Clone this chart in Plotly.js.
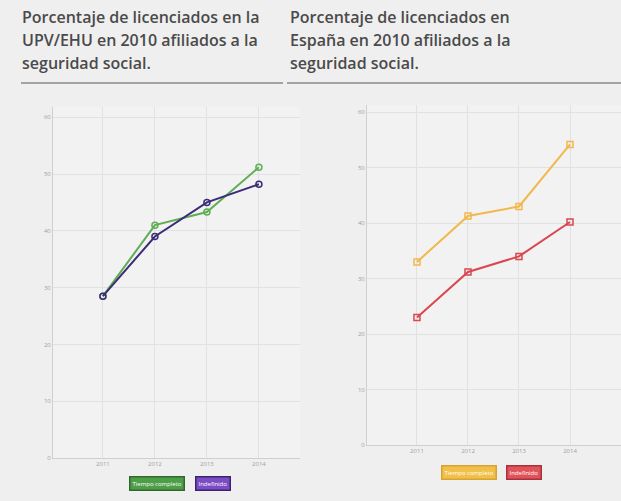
<!DOCTYPE html>
<html>
<head>
<meta charset="utf-8">
<script src="https://cdn.plot.ly/plotly-3.0.1.min.js"></script>
<style>html,body{margin:0;padding:0;background:#efefef;}#chart{width:621px;height:501px;}</style>
</head>
<body>
<div id="chart"></div>
<script>
// ---- data ----
const years = [2011, 2012, 2013, 2014];
const yTicks = [0, 10, 20, 30, 40, 50, 60];

const upvNames = ["Tiempo completo", "Indefinido"];
const upvSeriesA = [28.5, 41.0, 43.3, 51.2];
const upvSeriesB = [28.5, 39.0, 45.0, 48.2];

const espNames = ["Tiempo completo", "Indefinido"];
const espSeriesA = [33.0, 41.3, 43.0, 54.2];
const espSeriesB = [23.0, 31.2, 34.0, 40.2];

const titleLeft = ["Porcentaje de licenciados en la", "UPV/EHU en 2010 afiliados a la", "seguridad social."];
const titleRight = ["Porcentaje de licenciados en", "España en 2010 afiliados a la", "seguridad social."];

// ---- styles ----
const W = 621, H = 501;
const px = x => x / W;
const py = y => 1 - y / H;
const colGreen = "#5fae55", colPurple = "#3c2c78", colYellow = "#f2b84b", colRed = "#d9474f";

function trace(y, name, color, symbol, xa, ya) {
  return {
    x: years, y: y, name: name, type: "scatter", mode: "lines+markers",
    xaxis: xa, yaxis: ya,
    line: {color: color, width: 2},
    marker: {symbol: symbol, size: 6, color: color, line: {color: color, width: 1.5}},
    showlegend: false
  };
}

const data = [
  trace(upvSeriesA, upvNames[0], colGreen, "circle-open", "x", "y"),
  trace(upvSeriesB, upvNames[1], colPurple, "circle-open", "x", "y"),
  trace(espSeriesA, espNames[0], colYellow, "square-open", "x2", "y2"),
  trace(espSeriesB, espNames[1], colRed, "square-open", "x2", "y2")
];

const axisCommon = {
  showgrid: true, gridcolor: "#e1e1e1", gridwidth: 1,
  zeroline: false, showline: true, linecolor: "#cfcfcf", linewidth: 1,
  tickfont: {family: "Open Sans, sans-serif", size: 6, color: "#a0a0a0"},
  ticks: "", fixedrange: true
};

const annotations = [];
const titleFont = {family: "Open Sans, sans-serif", size: 16, color: "#4a4a4a", weight: 600};
titleLeft.forEach((t, i) => annotations.push({
  text: t, xref: "paper", yref: "paper", x: px(20), y: py(17 + i * 23),
  xanchor: "left", yanchor: "middle", showarrow: false, font: titleFont
}));
titleRight.forEach((t, i) => annotations.push({
  text: t, xref: "paper", yref: "paper", x: px(288), y: py(17 + i * 23),
  xanchor: "left", yanchor: "middle", showarrow: false, font: titleFont
}));

function legendBox(text, xc, yc, bg, border) {
  annotations.push({
    text: text, xref: "paper", yref: "paper", x: px(xc), y: py(yc),
    xanchor: "center", yanchor: "middle", showarrow: false,
    font: {family: "Open Sans, sans-serif", size: 6, color: "#ffffff"},
    bgcolor: bg, bordercolor: border, borderwidth: 1.5, borderpad: 2
  });
}
legendBox(upvNames[0], 157, 483, "#4e9e48", "#2f6a2c");
legendBox(upvNames[1], 213, 483, "#7c4cc4", "#3a2470");
legendBox(espNames[0], 469, 472, "#f1c04a", "#d9a330");
legendBox(espNames[1], 524, 472, "#e0535a", "#a8323a");

const layout = {
  width: W, height: H,
  margin: {l: 0, r: 0, t: 0, b: 0},
  paper_bgcolor: "#efefef",
  plot_bgcolor: "#f2f2f2",
  showlegend: false,
  xaxis: Object.assign({}, axisCommon, {
    domain: [px(53), px(300)], range: [2010.04, 2014.79],
    tickvals: years, ticktext: years.map(String), anchor: "y"
  }),
  yaxis: Object.assign({}, axisCommon, {
    domain: [py(458), py(107)], range: [0, 61.8],
    tickvals: yTicks, anchor: "x"
  }),
  xaxis2: Object.assign({}, axisCommon, {
    domain: [px(367), 1], range: [2010.02, 2015],
    tickvals: years, ticktext: years.map(String), anchor: "y2"
  }),
  yaxis2: Object.assign({}, axisCommon, {
    domain: [py(445), py(105)], range: [0, 61.3],
    tickvals: yTicks, anchor: "x2"
  }),
  shapes: [
    {type: "line", xref: "paper", yref: "paper", x0: px(21), x1: px(283), y0: py(83), y1: py(83),
     line: {color: "#8a8a8a", width: 1.5}},
    {type: "line", xref: "paper", yref: "paper", x0: px(287), x1: 1, y0: py(83), y1: py(83),
     line: {color: "#8a8a8a", width: 1.5}}
  ],
  annotations: annotations
};

Plotly.newPlot("chart", data, layout, {displayModeBar: false, staticPlot: true});
</script>
</body>
</html>
